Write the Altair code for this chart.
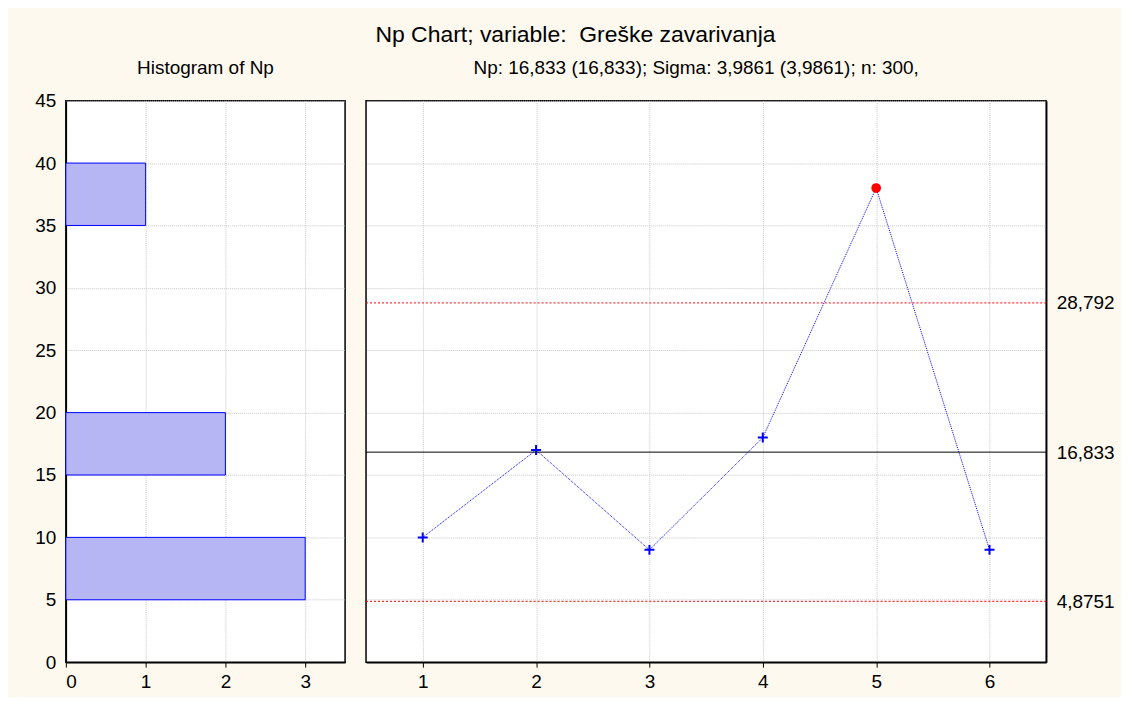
import altair as alt
import pandas as pd

# ---- data ----
samples = [1, 2, 3, 4, 5, 6]
np_values = [10, 17, 9, 18, 38, 9]
hist_bin_start = [5, 15, 35]
hist_bin_end = [10, 20, 40]
hist_counts = [3, 2, 1]
center_line = 16.833
ucl = 28.792
lcl = 4.8751
y_ticks = [0, 5, 10, 15, 20, 25, 30, 35, 40, 45]
hist_x_ticks = [0, 1, 2, 3]

FONT = "Liberation Sans"
BG = "#FDF9EE"
TICK_FS = 19

hist_df = pd.DataFrame({"start": hist_bin_start, "end": hist_bin_end,
                        "count": hist_counts, "zero": [0] * len(hist_counts)})
pts_df = pd.DataFrame({"sample": samples, "np": np_values})
pts_df["out"] = (pts_df["np"] > ucl) | (pts_df["np"] < lcl)
limits_df = pd.DataFrame({"value": [ucl, center_line, lcl], "kind": ["UCL", "CL", "LCL"]})

yscale = alt.Scale(domain=[0, 45], nice=False, zero=False)
xscale_r = alt.Scale(domain=[0.5, 6.5], nice=False, zero=False)

grid_kw = dict(grid=True, gridColor="#C8C8C8", gridDash=[1, 1], gridWidth=1)

# ---- left panel: histogram ----
left = alt.Chart(hist_df).mark_rect(
    fill="#B6B6F4", stroke="#0000FF", strokeWidth=1
).encode(
    x=alt.X("zero:Q", scale=alt.Scale(domain=[0, 3.5], nice=False, zero=True),
            axis=alt.Axis(values=hist_x_ticks, title=None, format="d", tickSize=5,
                          labelPadding=5, minExtent=30, maxExtent=30, **grid_kw)),
    x2="count:Q",
    y=alt.Y("start:Q", scale=yscale,
            axis=alt.Axis(values=y_ticks, title=None, tickSize=0, labelPadding=10,
                          minExtent=57, maxExtent=57, **grid_kw)),
    y2="end:Q",
).properties(
    width=280, height=563,
    title=alt.TitleParams("Histogram of Np", fontSize=19, font=FONT, fontWeight="normal",
                          baseline="alphabetic", offset=-1, anchor="middle"),
)

# ---- right panel: Np control chart ----
limit_vals = [lcl, center_line, ucl]
is_limit = "indexof([%r, %r, %r], datum.value) >= 0" % (lcl, center_line, ucl)

x_r = alt.X("sample:Q", scale=xscale_r,
            axis=alt.Axis(values=samples, title=None, format="d", tickSize=5,
                          labelPadding=5, minExtent=30, maxExtent=30, **grid_kw))
y_axis_r = alt.Axis(orient="right", values=y_ticks + limit_vals, title=None,
                    grid=True, gridColor="#C8C8C8", gridDash=[1, 1], gridWidth=1,
                    gridOpacity=alt.condition(is_limit, alt.value(0), alt.value(1)),
                    tickSize=0, labelPadding=10,
                    labelExpr="%s ? replace(datum.value + '', '.', ',') : ''" % is_limit,
                    minExtent=74, maxExtent=74)
y_r = alt.Y("np:Q", scale=yscale, axis=y_axis_r)
y_lim = alt.Y("value:Q", scale=yscale, axis=y_axis_r)

base = alt.Chart(pts_df)

limit_rules = alt.Chart(limits_df).transform_filter(
    alt.datum.kind != "CL"
).mark_rule(color="#FF0000", strokeDash=[2, 2], strokeWidth=1).encode(y=y_lim)

center_rule = alt.Chart(limits_df).transform_filter(
    alt.datum.kind == "CL"
).mark_rule(color="#000000", strokeWidth=1).encode(y=y_lim)

line = base.mark_line(color="#0000FF", strokeWidth=1, strokeDash=[1, 1]).encode(
    x=x_r, y=y_r,
)

plus_pts = base.transform_filter(alt.datum.out == False).mark_point(
    shape="M-1,0H1M0,-1V1", size=100, stroke="#0000FF", strokeWidth=2, opacity=1
).encode(x=x_r, y=y_r)

out_pts = base.transform_filter(alt.datum.out == True).mark_point(
    shape="circle", size=95, filled=True, color="#FF0000", opacity=1
).encode(x=x_r, y=y_r)

right = alt.layer(
    line, limit_rules, center_rule, plus_pts, out_pts
).properties(
    width=682, height=563,
    title=alt.TitleParams("Np: 16,833 (16,833); Sigma: 3,9861 (3,9861); n: 300,",
                          fontSize=19, font=FONT, fontWeight="normal",
                          baseline="alphabetic", offset=7, anchor="middle", dx=-10),
)

chart = alt.hconcat(left, right, spacing=18).properties(
    title=alt.TitleParams("Np Chart; variable:\u00a0 Greške zavarivanja", fontSize=23,
                          font=FONT, fontWeight="normal", anchor="middle", offset=11,
                          dx=11),
    background=BG,
    padding={"left": 0, "top": 15, "right": 0, "bottom": 3},
).configure_view(
    stroke="#000000", strokeWidth=1.5, fill="#FFFFFF"
).configure_axis(
    labelFont=FONT, labelFontSize=TICK_FS, labelColor="#000000",
    domainColor="#000000", domainWidth=1.5, tickColor="#000000",
).configure_title(color="#000000")

chart.save("out.html", embed_options={"renderer": "svg", "actions": False})
